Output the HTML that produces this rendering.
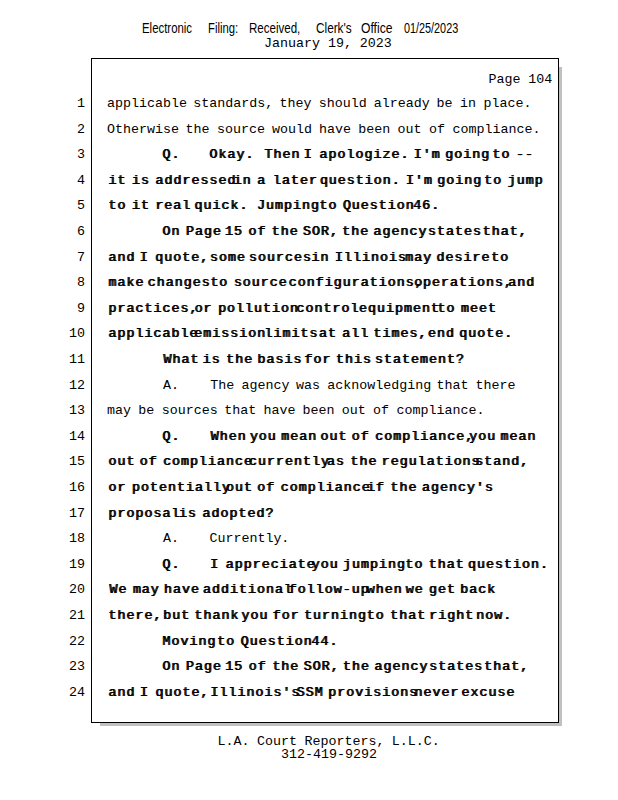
<!DOCTYPE html>
<html><head><meta charset="utf-8"><style>
html,body{margin:0;padding:0;background:#fff;}
body{width:618px;height:800px;position:relative;overflow:hidden;}
.ln,.num,.ft{position:absolute;font-family:"Liberation Mono",monospace;font-size:13.33px;line-height:0;white-space:pre;color:#000;}
.r{font-weight:normal;}
.b{font-weight:normal;letter-spacing:1px;text-shadow:1px 0 0 #000;}
.num{right:533px;text-align:right;}
.hw{position:absolute;font-family:"Liberation Sans",sans-serif;font-size:14px;line-height:0;white-space:pre;color:#000;transform-origin:0 0;}
#box{position:absolute;left:91px;top:58px;width:466px;height:663px;border:1px solid #000;background:#fff;}
#shadow{position:absolute;left:100px;top:67px;width:462px;height:659px;background:#c0c0c0;}
</style></head><body>
<div class="hw" id="h0" style="left:141.50px;top:28.00px;transform:scaleX(0.8142)">Electronic</div>
<div class="hw" id="h1" style="left:207.50px;top:28.00px;transform:scaleX(0.8045)">Filing:</div>
<div class="hw" id="h2" style="left:248.50px;top:28.00px;transform:scaleX(0.8243)">Received,</div>
<div class="hw" id="h3" style="left:315.50px;top:28.00px;transform:scaleX(0.8422)">Clerk's</div>
<div class="hw" id="h4" style="left:361.00px;top:28.00px;transform:scaleX(0.8661)">Office</div>
<div class="hw" id="h5" style="left:403.50px;top:28.00px;transform:scaleX(0.7733)">01/25/2023</div>
<div id="shadow"></div>
<div id="box"></div>
<div class="ft" id="date" style="left:264.00px;top:44.00px;word-spacing:-0.100px">January 19, 2023</div>
<div class="ft" id="page" style="left:488.50px;top:80.00px;word-spacing:-0.200px">Page 104</div>
<div class="ft" id="ft1" style="left:217.50px;top:742.00px;word-spacing:-0.533px">L.A. Court Reporters, L.L.C.</div>
<div class="ft" id="ft2" style="left:281.00px;top:755.00px;word-spacing:0.000px">312-419-9292</div>
<div class="ln r" style="top:104.00px;left:107.00px">applicable</div>
<div class="ln r" style="top:104.00px;left:193.30px">standards,</div>
<div class="ln r" style="top:104.00px;left:279.61px">they</div>
<div class="ln r" style="top:104.00px;left:318.84px">should</div>
<div class="ln r" style="top:104.00px;left:373.76px">already</div>
<div class="ln r" style="top:104.00px;left:436.52px">be</div>
<div class="ln r" style="top:104.00px;left:460.06px">in</div>
<div class="ln r" style="top:104.00px;left:483.60px">place.</div>
<div class="num" style="top:104.00px">1</div>
<div class="ln r" style="top:129.60px;left:107.00px">Otherwise</div>
<div class="ln r" style="top:129.60px;left:185.52px">the</div>
<div class="ln r" style="top:129.60px;left:216.93px">source</div>
<div class="ln r" style="top:129.60px;left:271.90px">would</div>
<div class="ln r" style="top:129.60px;left:319.01px">have</div>
<div class="ln r" style="top:129.60px;left:358.27px">been</div>
<div class="ln r" style="top:129.60px;left:397.53px">out</div>
<div class="ln r" style="top:129.60px;left:428.94px">of</div>
<div class="ln r" style="top:129.60px;left:452.50px">compliance.</div>
<div class="num" style="top:129.60px">2</div>
<div class="ln b" style="top:155.20px;left:162.00px">Q.</div>
<div class="ln b" style="top:155.20px;left:209.00px">Okay.</div>
<div class="ln b" style="top:155.20px;left:264.02px">Then</div>
<div class="ln b" style="top:155.20px;left:303.32px">I</div>
<div class="ln b" style="top:155.20px;left:319.04px">apologize.</div>
<div class="ln b" style="top:155.20px;left:413.36px">I'm</div>
<div class="ln b" style="top:155.20px;left:444.80px">going</div>
<div class="ln b" style="top:155.20px;left:491.96px">to</div>
<div class="ln b" style="top:155.20px;left:515.54px">--</div>
<div class="num" style="top:155.20px">3</div>
<div class="ln b" style="top:180.80px;left:108.00px">it</div>
<div class="ln b" style="top:180.80px;left:131.49px">is</div>
<div class="ln b" style="top:180.80px;left:154.98px">addressed</div>
<div class="ln b" style="top:180.80px;left:233.27px">in</div>
<div class="ln b" style="top:180.80px;left:256.76px">a</div>
<div class="ln b" style="top:180.80px;left:272.42px">later</div>
<div class="ln b" style="top:180.80px;left:319.39px">question.</div>
<div class="ln b" style="top:180.80px;left:405.51px">I'm</div>
<div class="ln b" style="top:180.80px;left:436.83px">going</div>
<div class="ln b" style="top:180.80px;left:483.81px">to</div>
<div class="ln b" style="top:180.80px;left:507.30px">jump</div>
<div class="num" style="top:180.80px">4</div>
<div class="ln b" style="top:206.40px;left:108.00px">to</div>
<div class="ln b" style="top:206.40px;left:131.44px">it</div>
<div class="ln b" style="top:206.40px;left:154.88px">real</div>
<div class="ln b" style="top:206.40px;left:193.94px">quick.</div>
<div class="ln b" style="top:206.40px;left:256.45px">Jumping</div>
<div class="ln b" style="top:206.40px;left:318.95px">to</div>
<div class="ln b" style="top:206.40px;left:342.39px">Question</div>
<div class="ln b" style="top:206.40px;left:412.71px">46.</div>
<div class="num" style="top:206.40px">5</div>
<div class="ln b" style="top:232.00px;left:162.00px">On</div>
<div class="ln b" style="top:232.00px;left:185.44px">Page</div>
<div class="ln b" style="top:232.00px;left:224.50px">15</div>
<div class="ln b" style="top:232.00px;left:247.93px">of</div>
<div class="ln b" style="top:232.00px;left:271.37px">the</div>
<div class="ln b" style="top:232.00px;left:302.62px">SOR,</div>
<div class="ln b" style="top:232.00px;left:341.68px">the</div>
<div class="ln b" style="top:232.00px;left:372.93px">agency</div>
<div class="ln b" style="top:232.00px;left:427.61px">states</div>
<div class="ln b" style="top:232.00px;left:482.30px">that,</div>
<div class="num" style="top:232.00px">6</div>
<div class="ln b" style="top:257.60px;left:108.00px">and</div>
<div class="ln b" style="top:257.60px;left:139.24px">I</div>
<div class="ln b" style="top:257.60px;left:154.86px">quote,</div>
<div class="ln b" style="top:257.60px;left:209.53px">some</div>
<div class="ln b" style="top:257.60px;left:248.58px">sources</div>
<div class="ln b" style="top:257.60px;left:311.07px">in</div>
<div class="ln b" style="top:257.60px;left:334.50px">Illinois</div>
<div class="ln b" style="top:257.60px;left:404.79px">may</div>
<div class="ln b" style="top:257.60px;left:436.03px">desire</div>
<div class="ln b" style="top:257.60px;left:490.70px">to</div>
<div class="num" style="top:257.60px">7</div>
<div class="ln b" style="top:283.20px;left:108.00px">make</div>
<div class="ln b" style="top:283.20px;left:147.19px">changes</div>
<div class="ln b" style="top:283.20px;left:209.88px">to</div>
<div class="ln b" style="top:283.20px;left:233.39px">source</div>
<div class="ln b" style="top:283.20px;left:288.25px">configurations,</div>
<div class="ln b" style="top:283.20px;left:413.64px">operations,</div>
<div class="ln b" style="top:283.20px;left:507.69px">and</div>
<div class="num" style="top:283.20px">8</div>
<div class="ln b" style="top:308.80px;left:108.00px">practices,</div>
<div class="ln b" style="top:308.80px;left:194.14px">or</div>
<div class="ln b" style="top:308.80px;left:217.64px">pollution</div>
<div class="ln b" style="top:308.80px;left:295.95px">control</div>
<div class="ln b" style="top:308.80px;left:358.60px">equipment</div>
<div class="ln b" style="top:308.80px;left:436.91px">to</div>
<div class="ln b" style="top:308.80px;left:460.40px">meet</div>
<div class="num" style="top:308.80px">9</div>
<div class="ln b" style="top:334.40px;left:108.00px">applicable</div>
<div class="ln b" style="top:334.40px;left:193.75px">emission</div>
<div class="ln b" style="top:334.40px;left:263.91px">limits</div>
<div class="ln b" style="top:334.40px;left:318.48px">at</div>
<div class="ln b" style="top:334.40px;left:341.87px">all</div>
<div class="ln b" style="top:334.40px;left:373.05px">times,</div>
<div class="ln b" style="top:334.40px;left:427.62px">end</div>
<div class="ln b" style="top:334.40px;left:458.80px">quote.</div>
<div class="num" style="top:334.40px">10</div>
<div class="ln b" style="top:360.00px;left:163.00px">What</div>
<div class="ln b" style="top:360.00px;left:202.19px">is</div>
<div class="ln b" style="top:360.00px;left:225.70px">the</div>
<div class="ln b" style="top:360.00px;left:257.04px">basis</div>
<div class="ln b" style="top:360.00px;left:304.07px">for</div>
<div class="ln b" style="top:360.00px;left:335.41px">this</div>
<div class="ln b" style="top:360.00px;left:374.60px">statement?</div>
<div class="num" style="top:360.00px">11</div>
<div class="ln r" style="top:385.60px;left:163.00px">A.</div>
<div class="ln r" style="top:385.60px;left:210.20px">The</div>
<div class="ln r" style="top:385.60px;left:241.42px">agency</div>
<div class="ln r" style="top:385.60px;left:296.06px">was</div>
<div class="ln r" style="top:385.60px;left:327.29px">acknowledging</div>
<div class="ln r" style="top:385.60px;left:436.57px">that</div>
<div class="ln r" style="top:385.60px;left:475.60px">there</div>
<div class="num" style="top:385.60px">12</div>
<div class="ln r" style="top:411.20px;left:107.00px">may</div>
<div class="ln r" style="top:411.20px;left:138.30px">be</div>
<div class="ln r" style="top:411.20px;left:161.77px">sources</div>
<div class="ln r" style="top:411.20px;left:224.36px">that</div>
<div class="ln r" style="top:411.20px;left:263.49px">have</div>
<div class="ln r" style="top:411.20px;left:302.61px">been</div>
<div class="ln r" style="top:411.20px;left:341.73px">out</div>
<div class="ln r" style="top:411.20px;left:373.03px">of</div>
<div class="ln r" style="top:411.20px;left:396.50px">compliance.</div>
<div class="num" style="top:411.20px">13</div>
<div class="ln b" style="top:436.80px;left:162.00px">Q.</div>
<div class="ln b" style="top:436.80px;left:210.20px">When</div>
<div class="ln b" style="top:436.80px;left:249.38px">you</div>
<div class="ln b" style="top:436.80px;left:280.72px">mean</div>
<div class="ln b" style="top:436.80px;left:319.90px">out</div>
<div class="ln b" style="top:436.80px;left:351.24px">of</div>
<div class="ln b" style="top:436.80px;left:374.75px">compliance,</div>
<div class="ln b" style="top:436.80px;left:468.78px">you</div>
<div class="ln b" style="top:436.80px;left:500.12px">mean</div>
<div class="num" style="top:436.80px">14</div>
<div class="ln b" style="top:462.40px;left:108.00px">out</div>
<div class="ln b" style="top:462.40px;left:139.22px">of</div>
<div class="ln b" style="top:462.40px;left:162.63px">compliance</div>
<div class="ln b" style="top:462.40px;left:248.48px">currently</div>
<div class="ln b" style="top:462.40px;left:326.52px">as</div>
<div class="ln b" style="top:462.40px;left:349.93px">the</div>
<div class="ln b" style="top:462.40px;left:381.15px">regulations</div>
<div class="ln b" style="top:462.40px;left:474.80px">stand,</div>
<div class="num" style="top:462.40px">15</div>
<div class="ln b" style="top:488.00px;left:108.00px">or</div>
<div class="ln b" style="top:488.00px;left:131.51px">potentially</div>
<div class="ln b" style="top:488.00px;left:225.53px">out</div>
<div class="ln b" style="top:488.00px;left:256.87px">of</div>
<div class="ln b" style="top:488.00px;left:280.37px">compliance</div>
<div class="ln b" style="top:488.00px;left:366.56px">if</div>
<div class="ln b" style="top:488.00px;left:390.06px">the</div>
<div class="ln b" style="top:488.00px;left:421.40px">agency's</div>
<div class="num" style="top:488.00px">16</div>
<div class="ln b" style="top:513.60px;left:108.00px">proposal</div>
<div class="ln b" style="top:513.60px;left:178.50px">is</div>
<div class="ln b" style="top:513.60px;left:202.00px">adopted?</div>
<div class="num" style="top:513.60px">17</div>
<div class="ln r" style="top:539.20px;left:163.00px">A.</div>
<div class="ln r" style="top:539.20px;left:209.40px">Currently.</div>
<div class="num" style="top:539.20px">18</div>
<div class="ln b" style="top:564.80px;left:162.00px">Q.</div>
<div class="ln b" style="top:564.80px;left:209.70px">I</div>
<div class="ln b" style="top:564.80px;left:225.32px">appreciate</div>
<div class="ln b" style="top:564.80px;left:311.22px">you</div>
<div class="ln b" style="top:564.80px;left:342.45px">jumping</div>
<div class="ln b" style="top:564.80px;left:404.93px">to</div>
<div class="ln b" style="top:564.80px;left:428.35px">that</div>
<div class="ln b" style="top:564.80px;left:467.40px">question.</div>
<div class="num" style="top:564.80px">19</div>
<div class="ln b" style="top:590.40px;left:109.00px">We</div>
<div class="ln b" style="top:590.40px;left:132.38px">may</div>
<div class="ln b" style="top:590.40px;left:163.55px">have</div>
<div class="ln b" style="top:590.40px;left:202.52px">additional</div>
<div class="ln b" style="top:590.40px;left:288.25px">follow-up</div>
<div class="ln b" style="top:590.40px;left:366.18px">when</div>
<div class="ln b" style="top:590.40px;left:405.15px">we</div>
<div class="ln b" style="top:590.40px;left:428.53px">get</div>
<div class="ln b" style="top:590.40px;left:459.70px">back</div>
<div class="num" style="top:590.40px">20</div>
<div class="ln b" style="top:616.00px;left:108.00px">there,</div>
<div class="ln b" style="top:616.00px;left:162.78px">but</div>
<div class="ln b" style="top:616.00px;left:194.08px">thank</div>
<div class="ln b" style="top:616.00px;left:241.03px">you</div>
<div class="ln b" style="top:616.00px;left:272.34px">for</div>
<div class="ln b" style="top:616.00px;left:303.64px">turning</div>
<div class="ln b" style="top:616.00px;left:366.24px">to</div>
<div class="ln b" style="top:616.00px;left:389.72px">that</div>
<div class="ln b" style="top:616.00px;left:428.85px">right</div>
<div class="ln b" style="top:616.00px;left:475.80px">now.</div>
<div class="num" style="top:616.00px">21</div>
<div class="ln b" style="top:641.60px;left:162.00px">Moving</div>
<div class="ln b" style="top:641.60px;left:216.86px">to</div>
<div class="ln b" style="top:641.60px;left:240.37px">Question</div>
<div class="ln b" style="top:641.60px;left:310.90px">44.</div>
<div class="num" style="top:641.60px">22</div>
<div class="ln b" style="top:667.20px;left:162.00px">On</div>
<div class="ln b" style="top:667.20px;left:185.55px">Page</div>
<div class="ln b" style="top:667.20px;left:224.79px">15</div>
<div class="ln b" style="top:667.20px;left:248.34px">of</div>
<div class="ln b" style="top:667.20px;left:271.88px">the</div>
<div class="ln b" style="top:667.20px;left:303.28px">SOR,</div>
<div class="ln b" style="top:667.20px;left:342.52px">the</div>
<div class="ln b" style="top:667.20px;left:373.92px">agency</div>
<div class="ln b" style="top:667.20px;left:428.86px">states</div>
<div class="ln b" style="top:667.20px;left:483.80px">that,</div>
<div class="num" style="top:667.20px">23</div>
<div class="ln b" style="top:692.80px;left:108.00px">and</div>
<div class="ln b" style="top:692.80px;left:139.39px">I</div>
<div class="ln b" style="top:692.80px;left:155.08px">quote,</div>
<div class="ln b" style="top:692.80px;left:210.01px">Illinois's</div>
<div class="ln b" style="top:692.80px;left:296.32px">SSM</div>
<div class="ln b" style="top:692.80px;left:327.71px">provisions</div>
<div class="ln b" style="top:692.80px;left:414.02px">never</div>
<div class="ln b" style="top:692.80px;left:461.10px">excuse</div>
<div class="num" style="top:692.80px">24</div>
</body></html>
